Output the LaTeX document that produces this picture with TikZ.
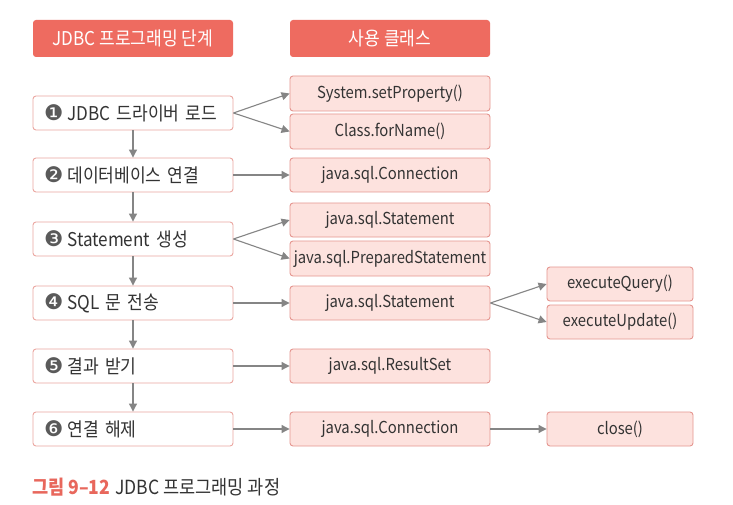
\documentclass[tikz,border=0pt]{standalone}
\usepackage{fontspec}
\setmainfont{Noto Sans CJK KR}[FakeStretch=0.9]
\newfontfamily\numfont{DejaVu Sans}
\usetikzlibrary{arrows.meta}
\definecolor{hdr}{HTML}{EE6B60}
\definecolor{lborder}{HTML}{EBA7A1}
\definecolor{rfill}{HTML}{FDE2DE}
\definecolor{rborder}{HTML}{E59690}
\definecolor{arr}{HTML}{858585}
\definecolor{txt}{HTML}{333333}
\definecolor{numc}{HTML}{5A5A5A}
\definecolor{capred}{HTML}{E8675C}
\tikzset{
  hdrbox/.style={fill=hdr, draw=none, rounded corners=3pt, minimum width=200pt, minimum height=37pt, text=white, font=\fontsize{19}{21}\selectfont, inner sep=0pt},
  stepbox/.style={fill=white, draw=lborder, line width=0.9pt, rounded corners=3pt, minimum width=200pt, minimum height=34pt, text width=178pt, align=left, inner xsep=11pt, inner ysep=0pt, text=txt, font=\fontsize{19}{20}\selectfont},
  clsbox/.style={fill=rfill, draw=rborder, line width=0.9pt, rounded corners=3pt, minimum width=200pt, minimum height=34pt, text=txt, font=\fontsize{16.5}{18}\selectfont, inner sep=0pt},
  mthbox/.style={clsbox, minimum width=146pt},
  conn/.style={draw=arr, line width=1.1pt, -{Triangle[length=8pt,width=8pt]}, arr},
}
\newcommand{\num}[1]{{\numfont\color{numc}\fontsize{21.5}{20}\selectfont #1}\hspace{4pt}}
\begin{document}
\begin{tikzpicture}[x=1pt,y=-1pt]
\useasboundingbox (0,0) rectangle (733,505);
\fill[white] (0,0) rectangle (733,505);
\node[hdrbox] (h1) at (133,38.5) {JDBC 프로그래밍 단계};
\node[hdrbox] (h2) at (390,38.5) {사용 클래스};

\node[stepbox] (s1) at (133,113) {\num{❶}JDBC 드라이버 로드};
\node[stepbox] (s2) at (133,175) {\num{❷}데이터베이스 연결};
\node[stepbox] (s3) at (133,239) {\num{❸}Statement 생성};
\node[stepbox] (s4) at (133,303) {\num{❹}SQL 문 전송};
\node[stepbox] (s5) at (133,366) {\num{❺}결과 받기};
\node[stepbox] (s6) at (133,429) {\num{❻}연결 해제};

\node[clsbox, minimum height=35pt] (c1a) at (390,93.5) {System.setProperty()};
\node[clsbox, minimum height=35pt] (c1b) at (390,131.5) {Class.forName()};
\node[clsbox] (c2) at (390,175) {java.sql.Connection};
\node[clsbox] (c3a) at (390,220) {java.sql.Statement};
\node[clsbox, minimum height=35pt] (c3b) at (390,258.5) {java.sql.PreparedStatement};
\node[clsbox] (c4) at (390,303) {java.sql.Statement};
\node[clsbox] (c5) at (390,366) {java.sql.ResultSet};
\node[clsbox] (c6) at (390,429) {java.sql.Connection};

\node[mthbox] (m4a) at (620,284) {executeQuery()};
\node[mthbox] (m4b) at (620,322) {executeUpdate()};
\node[mthbox] (m6) at (620,429) {close()};

\foreach \a/\b in {s1/s2,s2/s3,s3/s4,s4/s5,s5/s6}
  \draw[conn] (\a.south) -- (\b.north);

\draw[conn] (s1.east) -- (c1a.west);
\draw[conn] (s1.east) -- (c1b.west);
\draw[conn] (s2.east) -- (c2.west);
\draw[conn] (s3.east) -- (c3a.west);
\draw[conn] (s3.east) -- (c3b.west);
\draw[conn] (s4.east) -- (c4.west);
\draw[conn] (s5.east) -- (c5.west);
\draw[conn] (s6.east) -- (c6.west);
\draw[conn] (c4.east) -- (m4a.west);
\draw[conn] (c4.east) -- (m4b.west);
\draw[conn] (c6.east) -- (m6.west);

\node[anchor=west, inner sep=0pt, font=\fontsize{19.5}{21}\selectfont] (cap) at (32,487)
  {{\bfseries\color{capred}그림 9–12}\hspace{5pt}{\color{txt}JDBC 프로그래밍 과정}};
\end{tikzpicture}
\end{document}
